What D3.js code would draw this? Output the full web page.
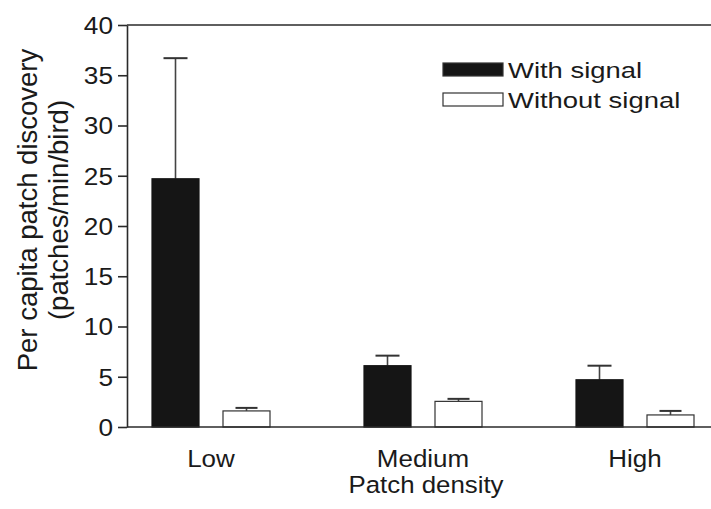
<!DOCTYPE html>
<html>
<head>
<meta charset="utf-8">
<script src="https://cdn.jsdelivr.net/npm/d3@7"></script>
<style>
  body { margin: 0; background: #fff; }
  svg { display: block; font-family: "Liberation Sans", Arial, sans-serif; }
</style>
</head>
<body>
<svg id="chart" width="711" height="509"></svg>
<script>
// data
var categories = ["Low", "Medium", "High"];
var series = ["With signal", "Without signal"];
var withSignal = [24.7, 6.1, 4.7];
var withSignalErr = [36.7, 7.1, 6.1];
var withoutSignal = [1.6, 2.55, 1.2];
var withoutSignalErr = [1.9, 2.8, 1.6];
var yTicks = [0, 5, 10, 15, 20, 25, 30, 35, 40];

var svg = d3.select("#chart");
var ink = "#2a2a2a";
var txt = "#1a1a1a";
var sx = 1.13; // the printed lettering is a bit wider than Liberation Sans

var y = d3.scaleLinear().domain([0, 40]).range([427, 25]);
var x = d3.scalePoint().domain(categories).range([211, 635]);
var xs = d3.scaleBand().domain(series).range([-59, 59]).paddingInner(0.338);

var fills = { "With signal": "#151515", "Without signal": "#ffffff" };

var rows = [];
categories.forEach(function(c, i) {
    rows.push({ cat: c, s: series[0], v: withSignal[i], e: withSignalErr[i] });
    rows.push({ cat: c, s: series[1], v: withoutSignal[i], e: withoutSignalErr[i] });
});

function wideText(g, px, py, size, scale, anchor, str) {
    return g.append("text")
        .attr("transform", "translate(" + px + "," + py + ") scale(" + scale + ",1)")
        .attr("text-anchor", anchor)
        .attr("fill", txt)
        .style("font-size", size + "px")
        .text(str);
}

// top frame line
svg.append("line")
    .attr("x1", 127).attr("x2", 711)
    .attr("y1", y(40)).attr("y2", y(40))
    .attr("stroke", ink).attr("stroke-width", 1.6);

// error bars (under bars so only the upper half shows)
var eb = svg.append("g").attr("id", "errors");
rows.forEach(function(d) {
    var cx = x(d.cat) + xs(d.s) + xs.bandwidth() / 2;
    var half = d.s === series[0] ? 12 : 11;
    eb.append("line")
        .attr("x1", cx).attr("x2", cx)
        .attr("y1", y(d.v)).attr("y2", y(d.e))
        .attr("stroke", "#444").attr("stroke-width", 1.6);
    eb.append("line")
        .attr("x1", cx - half).attr("x2", cx + half)
        .attr("y1", y(d.e)).attr("y2", y(d.e))
        .attr("stroke", "#333").attr("stroke-width", 2);
});

svg.append("g").attr("id", "bars")
    .selectAll("rect")
    .data(rows)
    .enter()
    .append("rect")
    .attr("x", function(d) { return x(d.cat) + xs(d.s); })
    .attr("y", function(d) { return y(d.v); })
    .attr("width", xs.bandwidth())
    .attr("height", function(d) { return y(0) - y(d.v); })
    .attr("fill", function(d) { return fills[d.s]; })
    .attr("stroke", function(d) { return d.s === series[0] ? "#151515" : "#333"; })
    .attr("stroke-width", 1.2);

// baseline
svg.append("line")
    .attr("x1", 127).attr("x2", 711)
    .attr("y1", y(0)).attr("y2", y(0))
    .attr("stroke", ink).attr("stroke-width", 1.6);

// y axis
var yAxis = svg.append("g")
    .attr("transform", "translate(127,0)")
    .call(d3.axisLeft(y).tickValues(yTicks).tickSize(9).tickSizeOuter(0).tickPadding(5));
yAxis.select(".domain").attr("stroke", ink).attr("stroke-width", 1.6);
yAxis.selectAll(".tick line").attr("stroke", ink).attr("stroke-width", 1.6);
yAxis.selectAll(".tick text")
    .attr("x", -14 / 1.14)
    .attr("dy", "0.36em")
    .attr("transform", "scale(1.14,1)")
    .attr("fill", txt)
    .style("font-size", "23px")
    .style("font-family", "Liberation Sans, Arial, sans-serif");

// category labels
var xl = svg.append("g").attr("id", "xlabels");
categories.forEach(function(c) {
    wideText(xl, x(c), 467, 23, sx, "middle", c);
});
wideText(svg, 426, 493, 23.5, 1.1, "middle", "Patch density");

// y title, two lines
var yt = svg.append("text")
    .attr("transform", "translate(0,210) rotate(-90)")
    .attr("text-anchor", "middle")
    .attr("fill", txt)
    .style("font-size", "27.5px");
yt.append("tspan").attr("x", 0).attr("y", 37).text("Per capita patch discovery");
yt.append("tspan").attr("x", 0).attr("y", 68).text("(patches/min/bird)");

// legend
var lg = svg.append("g").attr("id", "legend");
series.forEach(function(s, i) {
    lg.append("rect")
        .attr("x", 443).attr("y", 63 + i * 30)
        .attr("width", 60).attr("height", 13)
        .attr("fill", fills[s])
        .attr("stroke", "#333").attr("stroke-width", 1.2);
    wideText(lg, 508, 78 + i * 30, 22.5, 1.22, "start", s);
});
</script>
</body>
</html>
